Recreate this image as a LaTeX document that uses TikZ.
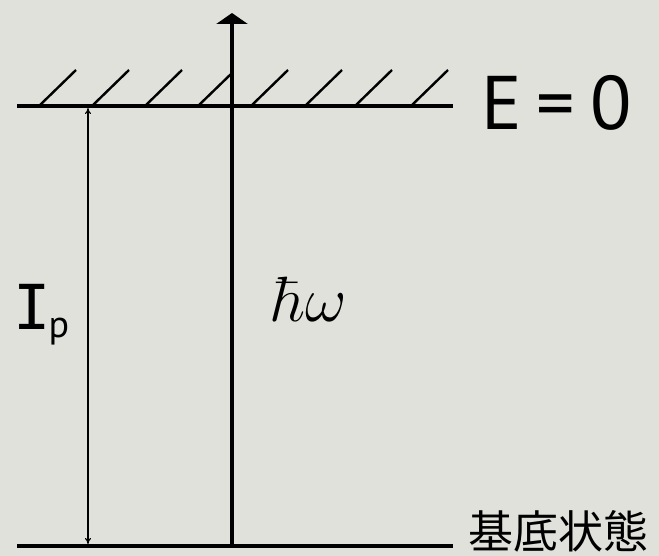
\documentclass[tikz,border=0pt]{standalone}
\usepackage{fix-cm}
\usepackage{fontspec}
\usetikzlibrary{arrows.meta}
\newfontfamily\cjkfont{Noto Sans CJK JP}
\newfontfamily\labfont{PT Sans}
\newfontfamily\barfont{DejaVu Sans Mono}
\definecolor{bgc}{RGB}{224,225,219}
\tikzset{
  level/.style={line width=4pt},
  hatch/.style={line width=2.4pt},
  axis/.style={line width=4pt,-{Triangle[width=31pt,length=11pt]}},
  gap/.style={line width=1.1pt,{To[length=6pt,width=6pt]}-{To[length=6pt,width=6pt]}},
  lbl/.style={inner sep=0pt,text=black}
}
\begin{document}
\begin{tikzpicture}[x=1pt,y=-1pt]
\fill[bgc] (0,0) rectangle (659,556);
\useasboundingbox (0,0) rectangle (659,556);
% levels
\coordinate (tl) at (17,106);
\coordinate (tr) at (453,106);
\coordinate (bl) at (17,546);
\coordinate (br) at (453,546);
\draw[level] (tl) -- (tr);
\draw[level] (bl) -- (br);
% hatches
\foreach \x in {39,92,145,251,305,355,411}
  \draw[hatch] (\x,106) -- ++(37,-36);
\draw[hatch] (198,106) -- (231,74);
% axis
\coordinate (ax0) at (232,546);
\coordinate (axtop) at (232,13);
\draw[axis] (ax0) -- (axtop);
% Ip arrow
\coordinate (ipt) at (88,108);
\coordinate (ipb) at (88,544);
\draw[gap] (ipt) -- (ipb);
% labels
\node[lbl,anchor=base west] (e0) at (481,130) {\labfont\fontsize{76}{76}\selectfont E\hspace{15pt}=\hspace{15pt}0};
\node[lbl,anchor=base west] (ip) at (13,330) {\barfont\fontsize{62}{62}\selectfont I\hspace{-2pt}\raisebox{-8pt}{\labfont\fontsize{38}{38}\selectfont p}};
\node[lbl,anchor=base west] (hw) at (272,321) {\fontsize{64}{64}\selectfont$\hbar\omega$};
\node[lbl,anchor=west] (gs) at (468,531) {\cjkfont\fontsize{45}{45}\selectfont 基底状態};
\end{tikzpicture}
\end{document}
